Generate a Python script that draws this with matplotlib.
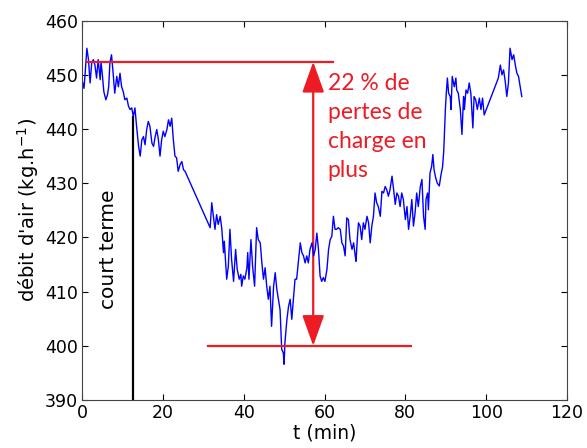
import matplotlib
matplotlib.use('Agg')
import matplotlib.pyplot as plt
from matplotlib.patches import FancyArrowPatch

# values
t_min = [0.0, 0.2, 0.5, 0.8, 1.2, 1.6, 2.0, 2.4, 2.8, 3.2, 3.6, 4.0, 4.5, 4.7, 5.0,
         5.4, 5.9, 6.3, 6.6, 6.9, 7.3, 7.7, 8.1, 8.6, 9.0, 9.4, 9.8, 10.2, 10.6, 11.1,
         11.5, 11.9, 12.3, 12.7, 13.1, 13.5, 14.0, 14.4, 14.8, 15.2, 15.6, 16.0, 16.4,
         16.8, 17.3, 17.7, 18.1, 18.5, 18.9, 19.3, 19.7, 20.1, 20.5, 21.0, 21.4, 21.8,
         22.2, 22.6, 23.0, 23.4, 23.8, 24.3, 24.7, 25.1, 25.5,
         31.7, 32.1, 32.5, 32.9, 33.3, 33.7, 34.2, 34.6, 35.0, 35.2, 35.8, 36.2, 36.6,
         37.0, 37.5, 38.0, 38.4, 38.9, 39.3, 39.5, 39.9, 40.3, 40.8, 41.0, 41.3, 41.8,
         42.2, 42.7, 43.2, 43.6, 44.1, 44.5, 44.9, 45.3, 45.7, 46.1, 46.5, 46.9, 47.4,
         47.8, 48.2, 48.6, 49.0, 49.4, 49.8, 50.0, 50.2, 50.7, 51.1, 51.5, 51.9, 52.3,
         52.7, 53.1, 53.5, 54.0, 54.4, 54.8, 55.2, 55.6, 56.0, 56.4, 56.9, 57.3, 57.7,
         58.1, 58.5, 58.9, 59.3, 59.7, 60.1, 60.6, 61.0, 61.4, 61.8, 62.2, 62.6, 63.0,
         63.4, 63.9, 64.3, 64.7, 65.1, 65.5, 65.9, 66.3, 66.8, 67.2, 67.6, 67.8, 68.1,
         68.4, 68.8, 69.2, 69.6, 70.0, 70.5, 70.9, 71.3, 71.7, 72.1, 72.5, 72.9, 73.3,
         73.8, 74.2, 74.6, 75.0, 75.4, 75.8, 76.2, 76.7, 77.1, 77.5, 77.9, 78.3, 78.7,
         79.1, 79.5, 80.0, 80.4, 80.8, 81.2, 81.6, 82.0, 82.4, 82.8, 83.2, 83.7, 84.1,
         84.5, 84.9, 85.1, 85.5, 85.7, 86.1, 86.5, 86.8, 87.1, 87.5, 87.9, 88.4, 88.8,
         89.2, 89.5, 89.9, 90.1, 90.4, 90.7, 91.1, 91.3, 91.6, 92.1, 92.5, 92.7, 93.1,
         93.6, 94.0, 94.4, 94.6, 95.0, 95.4, 95.8, 96.2, 96.7, 97.0, 97.4, 97.8, 98.3,
         98.7, 99.1, 99.5,
         103.0, 103.5, 103.9, 104.3, 104.7, 105.1, 105.5, 105.9, 106.4, 106.8, 107.2,
         107.6, 108.0, 108.4, 108.8]
debit = [449.0, 448.5, 447.5, 450.5, 454.9, 452.8, 448.5, 452.2, 452.8, 451.8, 449.4,
         452.8, 449.1, 452.4, 450.3, 446.9, 445.4, 446.3, 447.8, 452.2, 453.7, 450.3,
         446.6, 449.7, 447.8, 450.3, 447.8, 446.9, 445.4, 445.7, 444.2, 443.6, 443.9,
         442.3, 443.9, 440.5, 436.8, 435.0, 438.0, 438.6, 437.1, 439.9, 441.4, 440.5,
         437.4, 436.8, 438.6, 439.9, 438.0, 435.0, 438.0, 439.6, 438.6, 439.9, 441.7,
         440.5, 442.0, 438.0, 435.0, 434.7, 432.2, 433.5, 434.0, 432.5, 432.2,
         421.8, 426.4, 423.9, 421.5, 424.2, 422.4, 423.9, 421.5, 417.2, 419.3, 412.3,
         414.7, 421.5, 416.0, 411.9, 417.8, 414.1, 412.3, 413.2, 411.0, 412.9, 412.3,
         414.4, 417.2, 412.3, 419.6, 414.7, 411.0, 421.8, 419.6, 419.0, 415.3, 412.3,
         414.4, 411.0, 408.6, 411.0, 403.6, 411.0, 413.5, 410.4, 408.6, 406.7, 399.4,
         398.7, 396.6, 400.6, 404.9, 407.3, 408.6, 404.9, 408.6, 412.3, 412.3, 415.3,
         419.0, 417.2, 416.6, 415.3, 416.6, 415.3, 417.8, 419.0, 416.6, 417.8, 420.8,
         417.8, 412.9, 411.9, 412.6, 411.9, 414.1, 417.8, 419.6, 420.2, 423.9, 421.5,
         421.5, 421.8, 421.5, 419.0, 418.4, 416.6, 423.6, 423.3, 419.6, 417.8, 419.0,
         416.6, 415.6, 419.6, 422.7, 422.1, 419.6, 422.7, 421.5, 423.9, 422.7, 419.0,
         422.1, 423.9, 428.2, 426.4, 425.7, 423.9, 428.5, 428.2, 429.4, 428.8, 427.6,
         428.8, 431.3, 428.8, 426.1, 428.2, 427.6, 425.7, 428.2, 427.0, 423.3, 425.7,
         421.5, 423.9, 427.0, 422.1, 424.5, 428.2, 425.7, 429.4, 430.7, 423.9, 421.5,
         427.0, 428.2, 425.1, 431.9, 433.1, 435.3, 432.5, 431.0, 430.0, 429.5, 431.5,
         433.0, 436.0, 443.6, 446.3, 449.4, 446.6, 446.0, 443.6, 449.7, 447.8, 449.4,
         447.2, 446.6, 443.6, 439.0, 446.0, 443.6, 447.2, 446.6, 448.5, 446.6, 440.2,
         446.0, 445.4, 443.6, 445.7, 443.6, 445.7, 442.6,
         449.4, 451.8, 450.0, 450.9, 448.8, 446.0, 448.5, 454.9, 452.8, 453.7, 451.8,
         450.3, 449.7, 447.8, 446.0]

# annotation levels
niveau_haut = 452.4
niveau_bas = 400.0
t_court_terme = 12.6
debit_court_terme = 442.3
t_fleche = 57.2

rouge = '#ed1c24'

fig = plt.figure(figsize=(5.87, 4.48), dpi=100)
ax = fig.add_axes([0.1397, 0.107, 0.8263, 0.847])

ax.plot(t_min, debit, color='b', lw=1.0)

ax.plot([1.2, 62.0], [niveau_haut, niveau_haut], color=rouge, lw=1.6)
ax.plot([31.2, 81.4], [niveau_bas, niveau_bas], color=rouge, lw=1.6)
fleche = FancyArrowPatch((t_fleche, niveau_bas), (t_fleche, niveau_haut),
                         arrowstyle='<|-|>,head_length=1.9,head_width=0.68',
                         mutation_scale=10, color=rouge, lw=1.6,
                         shrinkA=0, shrinkB=0)
ax.add_patch(fleche)
ax.text(60.8, 450.4, "22 % de\npertes de\ncharge en\nplus", color=rouge,
        fontsize=16.5, family='Lato', va='top', ha='left', linespacing=1.47)

ax.plot([t_court_terme, t_court_terme], [390, debit_court_terme], color='k', lw=1.6)
ax.text(6.5, 417.8, "court terme", rotation=90, fontsize=14.5,
        ha='center', va='center')

ax.set_xlim(0, 120)
ax.set_ylim(390, 460)
ax.set_xticks(range(0, 121, 20))
ax.set_yticks(range(390, 461, 10))
ax.tick_params(direction='in', top=True, right=True, labelsize=12.5, length=4, pad=3)
ax.set_xlabel('t (min)', fontsize=13.5, labelpad=1)
ax.set_ylabel("débit d'air (kg.h$^{-1}$)", fontsize=14, labelpad=3)
for s in ax.spines.values():
    s.set_color('#444444')

fig.savefig('out.png', dpi=100)
